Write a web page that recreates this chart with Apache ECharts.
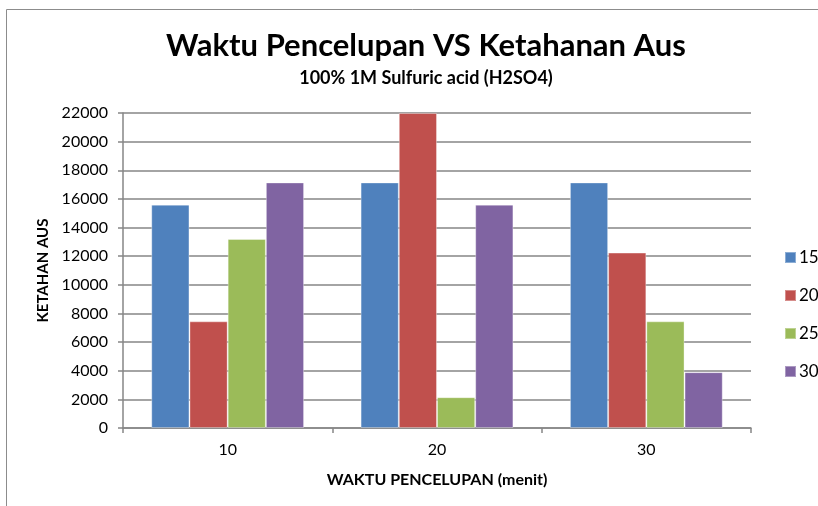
<!DOCTYPE html>
<html>
<head>
<meta charset="utf-8">
<script src="https://cdn.jsdelivr.net/npm/echarts@6/dist/echarts.min.js"></script>
<style>
  html, body { margin: 0; padding: 0; background: #fff; }
  #chart { width: 818px; height: 506px; }
</style>
</head>
<body>
<div id="chart"></div>
<script>
// waktu pencelupan (menit)
var categories = ['10', '20', '30'];
var seriesNames = ['15', '20', '25', '30'];
var s15 = [15600, 17150, 17150];
var s20 = [7450, 22000, 12250];
var s25 = [13200, 2150, 7450];
var s30 = [17150, 15600, 3900];
var yTicks = { min: 0, max: 22000, step: 2000 };
var colors = ['#4F81BD', '#C0504D', '#9BBB59', '#8064A2'];

var font = 'Lato, "Open Sans", sans-serif';
var allData = [s15, s20, s25, s30];

var chart = echarts.init(document.getElementById('chart'));
chart.setOption({
    animation: false,
    color: colors,
    textStyle: { fontFamily: font },
    graphic: [{
        type: 'rect',
        shape: { x: 6.5, y: 9.5, width: 830, height: 520 },
        style: { fill: 'none', stroke: '#8c8c8c', lineWidth: 1 }
    }],
    title: {
        text: 'Waktu Pencelupan VS Ketahanan Aus',
        subtext: '100% 1M Sulfuric acid (H2SO4)',
        left: 421,
        textAlign: 'center',
        top: 25,
        itemGap: 8,
        textStyle: { fontFamily: font, fontSize: 31, fontWeight: 'bold', color: '#000' },
        subtextStyle: { fontFamily: font, fontSize: 18, fontWeight: 'bold', color: '#000' }
    },
    legend: {
        orient: 'vertical',
        left: 779,
        top: 244,
        itemWidth: 11,
        itemHeight: 11,
        itemGap: 21,
        icon: 'rect',
        data: seriesNames,
        textStyle: { fontFamily: font, fontSize: 17, color: '#000', padding: [0, 0, 0, -2] }
    },
    grid: { left: 123, right: 67, top: 113, bottom: 78 },
    xAxis: {
        type: 'category',
        data: categories,
        name: 'WAKTU PENCELUPAN (menit)',
        nameLocation: 'middle',
        nameGap: 44,
        nameTextStyle: { fontFamily: font, fontSize: 16, fontWeight: 'bold', color: '#000' },
        axisLine: { lineStyle: { color: '#868686', width: 1.5 } },
        axisTick: { show: true, length: 5, lineStyle: { color: '#868686', width: 1.5 } },
        axisLabel: { fontFamily: font, fontSize: 16, color: '#000', margin: 14 }
    },
    yAxis: {
        type: 'value',
        min: yTicks.min,
        max: yTicks.max,
        interval: yTicks.step,
        name: 'KETAHAN AUS',
        nameLocation: 'middle',
        nameRotate: 90,
        nameGap: 71,
        nameTextStyle: { fontFamily: font, fontSize: 15, fontWeight: 'bold', color: '#000' },
        axisLine: { show: true, lineStyle: { color: '#868686', width: 1.5 } },
        axisTick: { show: true, length: 5, lineStyle: { color: '#868686', width: 1.5 } },
        axisLabel: {
            fontFamily: font, fontSize: 16, color: '#000', margin: 15,
            formatter: function (v) { return String(v); }
        },
        splitLine: { lineStyle: { color: '#868686', width: 1.5 } }
    },
    series: seriesNames.map(function (n, i) {
        return {
            name: n,
            type: 'bar',
            data: allData[i],
            barGap: '0%',
            barCategoryGap: '27%',
            itemStyle: { borderColor: 'rgba(255,255,255,0.35)', borderWidth: 1 }
        };
    })
});
</script>
</body>
</html>
